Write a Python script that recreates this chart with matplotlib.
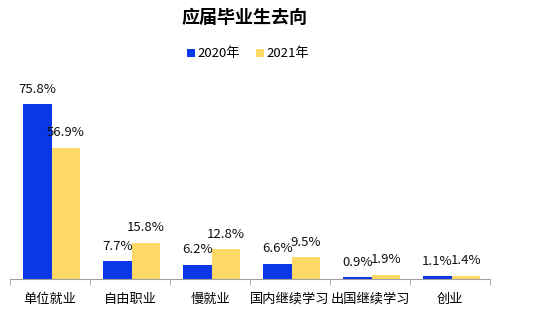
import numpy as np
import matplotlib
matplotlib.use("Agg")
import matplotlib.pyplot as plt

plt.rcParams['font.family'] = ['Noto Sans CJK SC', 'DejaVu Sans']

categories = ['单位就业', '自由职业', '慢就业', '国内继续学习', '出国继续学习', '创业']
v2020 = [75.8, 7.7, 6.2, 6.6, 0.9, 1.1]
v2021 = [56.9, 15.8, 12.8, 9.5, 1.9, 1.4]
series_names = ['2020年', '2021年']

blue = '#0B37E6'
yellow = '#FFD966'

fig = plt.figure(figsize=(5.45, 3.13), dpi=100)
ax = fig.add_axes([10/545, 1-279/313, 480/545, 184.8/313])

x = np.arange(len(categories))
w = 0.36
sh = 0.02
b1 = ax.bar(x - w/2 + sh, v2020, w, color=blue, label=series_names[0])
b2 = ax.bar(x + w/2 + sh, v2021, w, color=yellow, label=series_names[1])

# 数据标签
for bars, vals in ((b1, v2020), (b2, v2021)):
    for r, v in zip(bars, vals):
        ax.annotate('%.1f%%' % v, (r.get_x() + r.get_width()/2, v),
                    xytext=(0, 6), textcoords='offset points',
                    ha='center', va='bottom', fontsize=9.5, color='#111111')

ax.set_xlim(-0.5, len(categories) - 0.5)
ax.set_ylim(0, 80)
ax.set_yticks([])
ax.set_xticks(x)
ax.set_xticklabels(categories, fontsize=9.5)
ax.set_xticks(np.arange(-0.5, len(categories)), minor=True)
ax.tick_params(axis='x', which='major', length=0, pad=10)
ax.tick_params(axis='x', which='minor', length=4, color='#A0A0A0')
for s in ['top', 'right', 'left']:
    ax.spines[s].set_visible(False)
ax.spines['bottom'].set_color('#A0A0A0')

fig.text(245/545, 1-17/313, '应届毕业生去向', ha='center', va='center',
         fontsize=13, fontweight='bold')
fig.legend(loc='center', bbox_to_anchor=(248/545, 1-54/313), ncol=2,
           frameon=False, fontsize=9.5, handlelength=0.6, handleheight=0.6,
           handletextpad=0.2, columnspacing=1.2)

fig.savefig('out.png', dpi=100)
